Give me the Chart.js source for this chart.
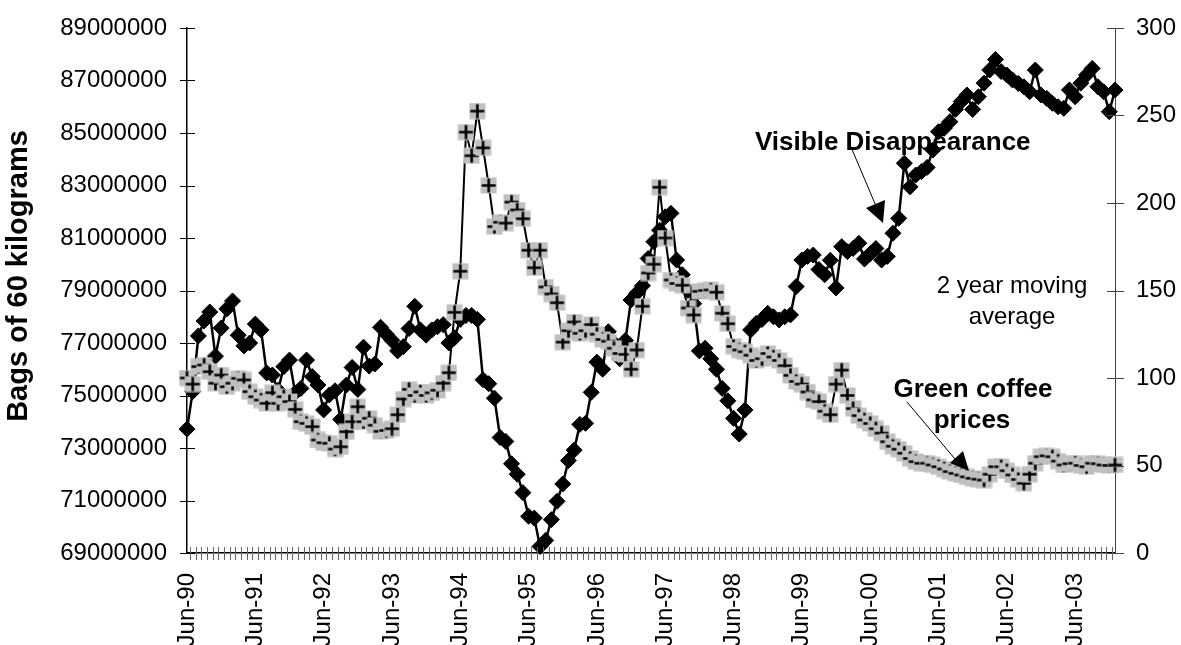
<!DOCTYPE html>
<html>
<head>
<meta charset="utf-8">
<script src="https://cdn.jsdelivr.net/npm/chart.js@4.4.1/dist/chart.umd.min.js"></script>
<style>
  html, body { margin: 0; padding: 0; background: #fff; overflow: hidden; }
</style>
</head>
<body>
<canvas id="chart" width="1181" height="645"></canvas>
<script>
// monthly, Jun-90 .. Jan-04
const monthNames = ["Jan", "Feb", "Mar", "Apr", "May", "Jun", "Jul", "Aug", "Sep", "Oct", "Nov", "Dec"];
const firstMonth = 5;   // Jun
const firstYear = 90;
const pointCount = 164;

// bags of 60 kg, left axis
const visibleDisappearance = [
  73.72e6, 75.15e6, 77.27e6, 77.84e6, 78.18e6, 76.50e6, 77.57e6, 78.30e6, 78.60e6, 77.30e6,
  76.89e6, 77.00e6, 77.72e6, 77.50e6, 75.86e6, 75.78e6, 75.20e6, 76.10e6, 76.35e6, 75.10e6,
  75.27e6, 76.35e6, 75.72e6, 75.40e6, 74.45e6, 75.02e6, 75.18e6, 74.09e6, 75.40e6, 76.07e6,
  75.23e6, 76.84e6, 76.12e6, 76.20e6, 77.60e6, 77.34e6, 77.10e6, 76.70e6, 76.86e6, 77.55e6,
  78.40e6, 77.50e6, 77.30e6, 77.50e6, 77.62e6, 77.70e6, 77.00e6, 77.20e6, 77.90e6, 78.05e6,
  78.05e6, 77.90e6, 75.60e6, 75.45e6, 74.90e6, 73.40e6, 73.25e6, 72.40e6, 72.00e6, 71.30e6,
  70.40e6, 70.33e6, 69.25e6, 69.48e6, 70.27e6, 70.97e6, 71.63e6, 72.52e6, 72.92e6, 73.90e6,
  73.94e6, 75.12e6, 76.27e6, 76.00e6, 77.43e6, 77.00e6, 76.40e6, 77.10e6, 78.64e6, 78.90e6,
  79.18e6, 80.22e6, 80.86e6, 81.30e6, 81.81e6, 81.94e6, 80.16e6, 79.60e6, 79.00e6, 78.50e6,
  76.70e6, 76.80e6, 76.40e6, 76.00e6, 75.27e6, 74.80e6, 74.13e6, 73.53e6, 74.45e6, 77.50e6,
  77.75e6, 77.90e6, 78.13e6, 78.00e6, 77.88e6, 78.00e6, 78.07e6, 79.15e6, 80.16e6, 80.30e6,
  80.35e6, 79.80e6, 79.60e6, 80.15e6, 79.10e6, 80.67e6, 80.48e6, 80.60e6, 80.80e6, 80.20e6,
  80.40e6, 80.60e6, 80.16e6, 80.30e6, 81.18e6, 81.75e6, 83.85e6, 82.95e6, 83.40e6, 83.53e6,
  83.69e6, 84.35e6, 85.05e6, 85.18e6, 85.43e6, 85.90e6, 86.20e6, 86.45e6, 85.90e6, 86.38e6,
  86.90e6, 87.40e6, 87.80e6, 87.34e6, 87.21e6, 87.02e6, 86.89e6, 86.76e6, 86.57e6, 87.40e6,
  86.45e6, 86.32e6, 86.13e6, 86.00e6, 85.94e6, 86.64e6, 86.38e6, 86.90e6, 87.21e6, 87.46e6,
  86.76e6, 86.57e6, 85.81e6, 86.64e6
];

// right axis
const greenCoffeePrices = [
  100, 96.5, 106.5, 107.4, 103.6, 97, 101.7, 95, 97, 99.8,
  98.9, 92.2, 89.3, 87.4, 85.5, 91.6, 85.5, 89.3, 86.5, 82.1,
  75, 74.1, 72.2, 64.6, 63, 62.7, 59.4, 60.7, 69.3, 75,
  83.6, 75, 77, 73, 69.5, 70, 71, 79, 88, 93.5,
  90, 92, 90, 91.5, 93, 97, 103, 137.5, 161, 240.5,
  227, 252.5, 231.5, 210, 186.5, 189, 188.5, 200.5, 196, 191,
  173, 163, 173, 152, 148, 143, 120.5, 127, 132, 125.5,
  127, 130.5, 125, 122, 121, 117, 114, 113.5, 105, 116,
  141, 160, 165, 209, 180, 156, 154, 153, 140, 136,
  149.5, 150, 150.3, 149, 137, 131, 118, 116, 115, 113,
  110, 111, 114, 112, 110, 107, 101.5, 98, 96.5, 92,
  87.5, 86.5, 81, 79, 96.5, 104.5, 90, 82.5, 78.5, 76,
  74, 71, 68.5, 63.6, 61, 59.3, 57, 54, 52.2, 51.3,
  51.3, 50.3, 49.3, 48, 46.5, 45.5, 44.6, 43.5, 42.7, 42.2,
  41.7, 45, 49.3, 49.3, 47, 44.6, 42, 39.8, 45, 51.3,
  55, 55.5, 55, 52.5, 50.3, 51, 51.3, 50, 49.3, 51.3,
  51, 50.3, 50, 50.3
];

const categories = [];
for (let i = 0; i < pointCount; i++) {
  const m = (firstMonth + i) % 12;
  const yy = (firstYear + Math.floor((firstMonth + i) / 12)) % 100;
  categories.push(monthNames[m] + "-" + String(yy).padStart(2, "0"));
}

const FONT = "'Liberation Sans', Arial, sans-serif";
Chart.defaults.font.family = FONT;
Chart.defaults.color = "#000";

// grey square with a black cross, the price marker
function crossMarker() {
  const c = document.createElement("canvas");
  c.width = 17;
  c.height = 17;
  const g = c.getContext("2d");
  g.fillStyle = "#c0c0c0";
  g.fillRect(0.5, 0.5, 16, 16);
  g.strokeStyle = "#000";
  g.lineWidth = 2.6;
  g.beginPath();
  g.moveTo(8.5, 1.5); g.lineTo(8.5, 15.5);
  g.moveTo(1.5, 8.5); g.lineTo(15.5, 8.5);
  g.stroke();
  return c;
}

function line(ctx, x1, y1, x2, y2) {
  ctx.beginPath();
  ctx.moveTo(x1, y1);
  ctx.lineTo(x2, y2);
  ctx.stroke();
}

// tick marks that cross the axes, like the old spreadsheet chart
const axisTicks = {
  id: "axisTicks",
  afterDraw(chart) {
    const { ctx, chartArea: a } = chart;
    const { x, y, y1 } = chart.scales;
    ctx.save();
    ctx.lineWidth = 1;
    ctx.strokeStyle = "#000";
    y.ticks.forEach((t, i) => {
      const p = Math.round(y.getPixelForTick(i)) + 0.5;
      line(ctx, a.left - 7, p, a.left + 8, p);
    });
    ctx.strokeStyle = "#444";
    y1.ticks.forEach((t, i) => {
      const p = Math.round(y1.getPixelForTick(i)) + 0.5;
      line(ctx, a.right - 8, p, a.right + 9, p);
    });
    ctx.strokeStyle = "#666";
    for (let i = 0; i < categories.length - 1; i++) {
      const p = Math.round((x.getPixelForValue(i) + x.getPixelForValue(i + 1)) / 2) + 0.5;
      line(ctx, p, a.bottom - 6, p, a.bottom + 7);
    }
    ctx.restore();
  }
};

function arrowHead(ctx, pts) {
  ctx.beginPath();
  ctx.moveTo(pts[0][0], pts[0][1]);
  ctx.lineTo(pts[1][0], pts[1][1]);
  ctx.lineTo(pts[2][0], pts[2][1]);
  ctx.closePath();
  ctx.fill();
}

const notes = {
  id: "notes",
  afterDraw(chart) {
    const ctx = chart.ctx;
    ctx.save();
    ctx.fillStyle = "#000";
    ctx.strokeStyle = "#000";

    // axis title
    ctx.save();
    ctx.translate(19, 276);
    ctx.rotate(-Math.PI / 2);
    ctx.font = "bold 29px " + FONT;
    ctx.textAlign = "center";
    ctx.textBaseline = "middle";
    ctx.fillText("Bags of 60 kilograms", 0, 0);
    ctx.restore();

    ctx.font = "bold 26px " + FONT;
    ctx.textAlign = "left";
    ctx.textBaseline = "alphabetic";
    ctx.fillText("Visible Disappearance", 755, 150);

    ctx.textAlign = "center";
    ctx.fillText("Green coffee", 973, 397);
    ctx.fillText("prices", 972, 428);

    ctx.font = "24px " + FONT;
    ctx.fillText("2 year moving", 1012, 293);
    ctx.fillText("average", 1012, 324);

    ctx.lineWidth = 1;
    line(ctx, 848, 140, 876, 206);
    arrowHead(ctx, [[866, 208], [885, 200], [883, 223]]);
    line(ctx, 907, 402, 955, 459);
    arrowHead(ctx, [[950, 463], [963, 451], [969, 471]]);
    ctx.restore();
  }
};

new Chart(document.getElementById("chart").getContext("2d"), {
  type: "line",
  data: {
    labels: categories,
    datasets: [
      {
        label: "Green coffee prices",
        data: greenCoffeePrices,
        yAxisID: "y1",
        borderColor: "#000",
        borderWidth: 2,
        pointStyle: crossMarker(),
        pointRadius: 8,
        tension: 0,
        clip: false,
        order: 0
      },
      {
        label: "Visible Disappearance",
        data: visibleDisappearance,
        yAxisID: "y",
        borderColor: "#000",
        backgroundColor: "#000",
        borderWidth: 2.5,
        pointStyle: "rectRot",
        pointRadius: 8,
        pointBorderWidth: 1,
        tension: 0,
        clip: false,
        order: 1
      }
    ]
  },
  options: {
    responsive: false,
    animation: false,
    events: [],
    layout: { padding: { top: 28, left: 0, right: 0, bottom: 0 } },
    plugins: { legend: { display: false }, tooltip: { enabled: false } },
    scales: {
      x: {
        type: "category",
        offset: false,
        grid: { display: false },
        border: { display: true, color: "#000", width: 1.5 },
        ticks: {
          autoSkip: false,
          minRotation: 90,
          maxRotation: 90,
          padding: 12,
          color: "#000",
          font: { size: 24 },
          callback: (v, i) => (categories[i].startsWith("Jun") ? categories[i] : "")
        },
        afterFit: s => { s.height = 92; }
      },
      y: {
        position: "left",
        min: 69000000,
        max: 89000000,
        grid: { display: false },
        border: { display: true, color: "#000", width: 1.5 },
        ticks: {
          stepSize: 2000000,
          padding: 12,
          color: "#000",
          font: { size: 24 },
          callback: v => String(v)
        },
        afterFit: s => { s.width = 187; }
      },
      y1: {
        position: "right",
        min: 0,
        max: 300,
        grid: { display: false },
        border: { display: true, color: "#444", width: 1 },
        ticks: {
          stepSize: 50,
          padding: 13,
          color: "#000",
          font: { size: 24 }
        },
        afterFit: s => { s.width = 66; }
      }
    }
  },
  plugins: [axisTicks, notes]
});
</script>
</body>
</html>
